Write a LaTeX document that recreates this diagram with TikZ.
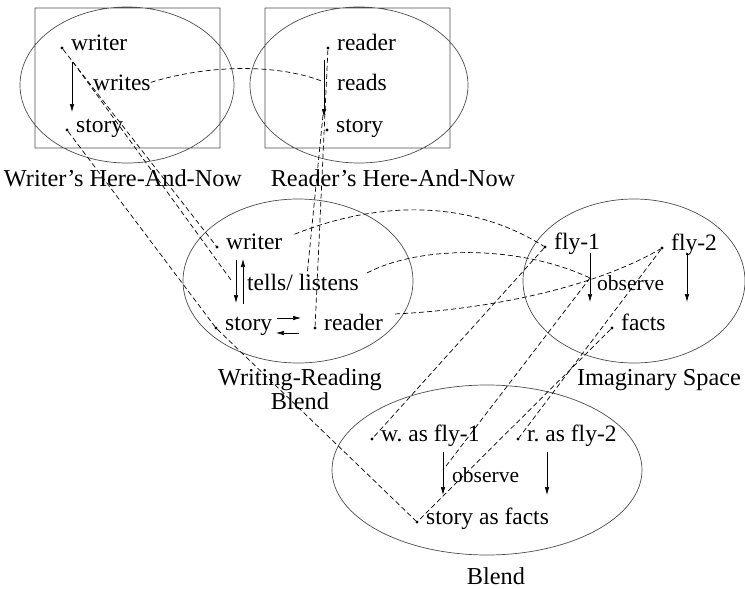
\documentclass[tikz,border=0pt]{standalone}
\usepackage{fontspec}
\setmainfont{Liberation Serif}
\usetikzlibrary{arrows.meta,calc}
\frenchspacing

\begin{document}
\begin{tikzpicture}
    [x=1pt, y=-1pt,
     space/.style={draw=black!70, line width=0.7pt},
     dot/.style={circle, fill=black, inner sep=0pt, minimum size=3.2pt},
     elem/.style={anchor=base west, inner sep=0pt, font=\fontsize{23.5}{28}\selectfont},
     small/.style={anchor=base west, inner sep=0pt, font=\fontsize{21.5}{26}\selectfont},
     title/.style={anchor=base, inner sep=0pt, align=center, font=\fontsize{24.3}{23.5}\selectfont},
     rel/.style={-{Latex[length=8pt,width=4.5pt]}, line width=0.7pt},
     link/.style={dash pattern=on 5pt off 3pt, line width=0.7pt}]
    \useasboundingbox (0,0) rectangle (745,589);

    % the four spaces
    \draw[space] (35,8) rectangle (220,148) (127,85) ellipse [x radius=107, y radius=78];
    \draw[space] (265,8) rectangle (450,148) (359,85) ellipse [x radius=109, y radius=78];
    \draw[space] (298,281) ellipse [x radius=115, y radius=82];
    \draw[space] (634,281) ellipse [x radius=111, y radius=82];
    \draw[space] (487,470) ellipse [x radius=155, y radius=85];

    \node[title] (wh) at (123,186) {Writer’s Here-And-Now};
    \node[title] (rh) at (393,186) {Reader’s Here-And-Now};
    \node[title] (wr) at (300,409) {Writing-Reading\\Blend};
    \node[title] (im) at (659,385) {Imaginary Space};
    \node[title] (bl) at (496,584) {Blend};

    % elements
    \foreach \n/\p/\t in {wh-writer/{62,48}/writer, wh-story/{67,130}/story,
        rh-reader/{328,48}/reader, rh-story/{327,130}/story,
        wr-writer/{217,247}/writer, wr-story/{216,328}/story, wr-reader/{315,328}/reader,
        im-fly1/{545,247}/fly-1, im-fly2/{662,248}/fly-2, im-facts/{612,328}/facts,
        bl-wfly/{372,439}/w. as fly-1, bl-rfly/{518,439}/r. as fly-2, bl-story/{417,522}/story as facts}
        {\node[dot] (\n) at (\p) {};
         \node[elem] (\n-t) at ($(\n)+(9,2)$) {\t};}

    % relations
    \node[elem] (wh-writes) at (93,90) {writes};
    \node[elem] (rh-reads) at (337,90) {reads};
    \node[elem] (wr-tells) at (247,290) {tells/ listens};
    \node[small] (im-observe) at (597,290) {observe};
    \node[small] (bl-observe) at (452,482) {observe};

    \coordinate (wh-rel) at (72,62);
    \coordinate (rh-rel) at (324,60);
    \coordinate (wr-rel) at (236,260);
    \coordinate (im-rel) at (590,253);
    \coordinate (bl-rel) at (443,452);

    \draw[rel] (wh-rel) -- ++(0,50);
    \draw[rel] (rh-rel) -- ++(0,57);
    \draw[rel] (wr-rel) -- ++(0,43);
    \draw[rel] ($(wr-rel)+(7,44)$) -- ++(0,-45);
    \draw[rel] (277,318) -- (301,318);
    \draw[rel] (299,333) -- (276,333);
    \draw[rel] (im-rel) -- ++(0,49);
    \draw[rel] (687,253) -- (687,302);
    \draw[rel] (bl-rel) -- ++(0,43);
    \draw[rel] (547,452) -- (547,495);

    % mappings
    \draw[link] (wh-writes.east) .. controls (210,64) and (280,64) .. ($(rh-rel)+(0,22)$);
    \draw[link] (wh-writer) -- (wr-writer);
    \draw[link] ($(wh-rel)+(1,0)$) -- ($(wr-rel)+(-5,20)$);
    \draw[link] (wh-story) -- (wr-story) -- (bl-story);
    \draw[link] (rh-reader) -- (wr-reader);
    \draw[link] ($(rh-rel)+(-1,55)$) -- (307,276);
    \draw[link] ($(wr-writer-t.north east)+(12,1)$) .. controls (380,200) and (470,200) .. (im-fly1);
    \draw[link] ($(wr-tells.east)+(8,-9)$) .. controls (420,245) and (520,245) .. ($(im-rel)+(0,25)$);
    \draw[link] ($(wr-reader-t.east)+(12,-8)$) .. controls (480,310) and (590,290) .. (im-fly2);
    \draw[link] (im-fly1) -- (bl-wfly);
    \draw[link] ($(im-rel)+(0,25)$) -- ($(bl-rel)+(0,18)$);
    \draw[link] (im-fly2) -- (bl-rfly);
    \draw[link] (im-facts) -- (bl-story);
\end{tikzpicture}
\end{document}
